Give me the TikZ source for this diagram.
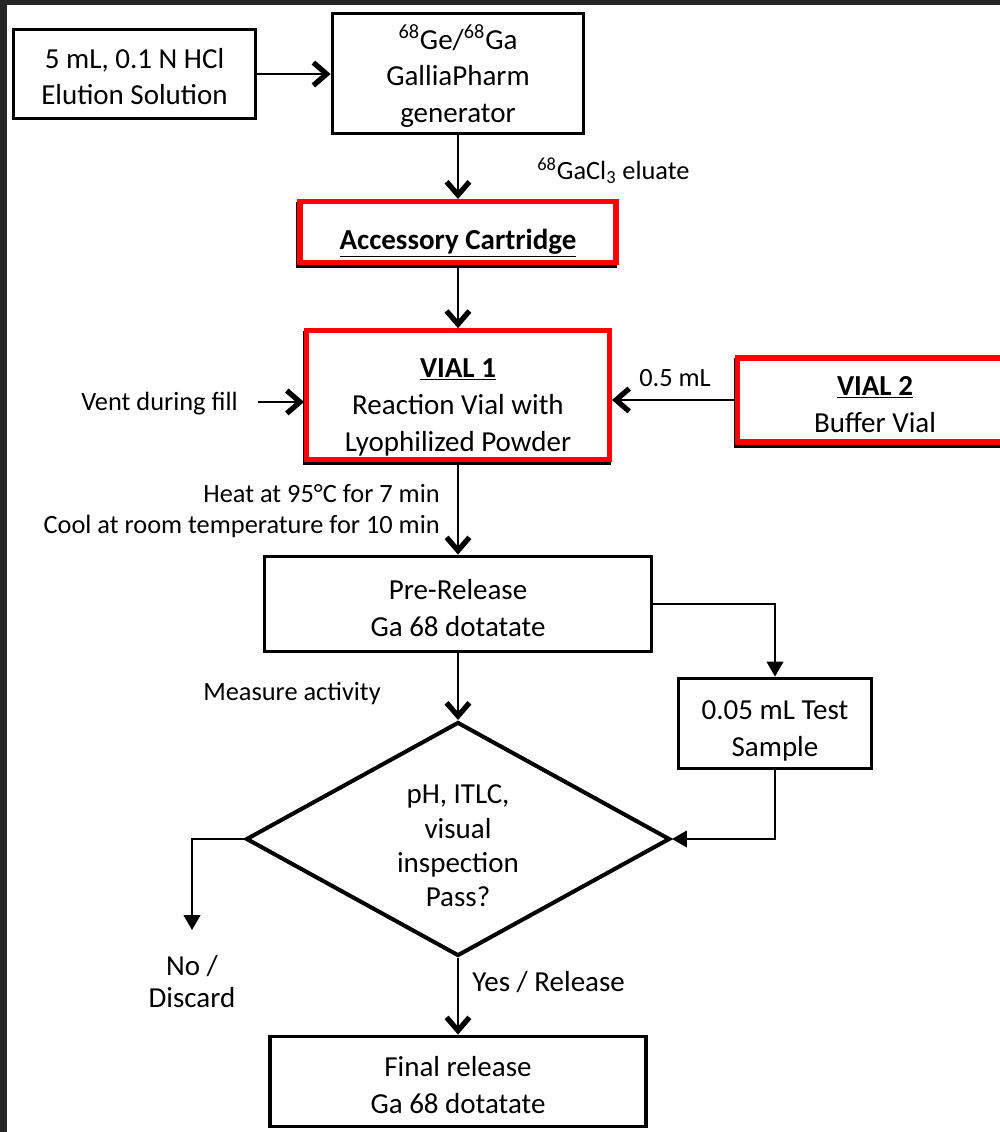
\documentclass[tikz,border=0pt]{standalone}
\usepackage{fontspec}
\setmainfont{Carlito}
\usetikzlibrary{shapes.geometric, arrows.meta, positioning}

\definecolor{framegray}{HTML}{262626}
% extra room above the first line, so the text sits low in its box
\newcommand{\padtop}[1]{\rule{0pt}{#1}}

\begin{document}
\begin{tikzpicture}[x=0.02cm, y=-0.02cm,
  box/.style={draw, line width=2.2pt, fill=white, align=center,
    font=\fontsize{16.5}{21}\selectfont, inner sep=2pt},
  redbox/.style={box, draw=red, line width=2.9pt,
    preaction={draw=black, line width=2.9pt,
      transform canvas={shift={(-0.6pt,-1.7pt)}}}},
  dia/.style={diamond, draw, line width=2.3pt, fill=white, align=center,
    inner sep=0pt, shape aspect=2.2, font=\fontsize{16.5}{19.5}\selectfont,
    minimum width=8.48cm, minimum height=4.68cm},
  lbl/.style={font=\fontsize{15}{17.6}\selectfont, inner sep=0pt},
  blbl/.style={font=\fontsize{16.5}{18.2}\selectfont, inner sep=0pt},
  arr/.style={line width=1.1pt,
    -{Straight Barb[length=7.5pt, width=13pt, line width'=3pt]}},
  tarr/.style={line width=1.1pt, -{Triangle[length=8.5pt, width=9.5pt]}},
]
% ── Frame ──
\useasboundingbox (0,0) rectangle (1000,1132);
\fill[white] (0,0) rectangle (1000,1132);
\fill[framegray] (0,0) rectangle (7,1132);
\fill[framegray] (0,0) rectangle (1000,5);

% ── Row 1: elution solution and generator ──
\node[box, minimum width=4.84cm, minimum height=1.78cm] (elu) at (134.5,74)
  {\padtop{14.3pt}5 mL, 0.1 N HCl\\Elution Solution};
\node[box, minimum width=5.02cm, minimum height=2.40cm] (gen) at (458,73.5)
  {\padtop{17pt}\textsuperscript{68}Ge/\textsuperscript{68}Ga\\GalliaPharm\\generator};
\draw[arr] (elu.east) -- (elu.east -| gen.west);

% ── Cartridge ──
\node[lbl, anchor=west] (eluate) at (537,171)
  {\textsuperscript{68}GaCl\textsubscript{3} eluate};
\node[redbox, minimum width=6.32cm, minimum height=1.22cm] (cart) at (458,232)
  {\padtop{24.5pt}\underline{\textbf{Accessory Cartridge}}};
\draw[arr] (gen.south) -- (cart.north);

% ── Vials ──
\node[redbox, minimum width=6.06cm, minimum height=2.30cm] (vial1) at (458,395)
  {\padtop{24.5pt}\underline{\textbf{VIAL 1}}\\Reaction Vial with\\Lyophilized Powder};
\node[redbox, minimum width=5.5cm, minimum height=1.68cm] (vial2) at (875,400)
  {\padtop{15.7pt}\underline{\textbf{VIAL 2}}\\Buffer Vial};
\draw[arr] (cart.south) -- (vial1.north);

\node[lbl, anchor=east] (ventlbl) at (238,404) {Vent during fill};
\coordinate (vent) at (258,402);
\draw[arr] (vent) -- (vent -| vial1.west);
\node[lbl] (half) at (675,378) {0.5 mL};
\draw[arr] (vial2.west) -- (vial2.west -| vial1.east);

% ── Heating and pre-release ──
\node[lbl, align=right, anchor=east] (heat) at (440,511)
  {Heat at 95°C for 7 min\\Cool at room temperature for 10 min};
\node[box, minimum width=7.74cm, minimum height=1.90cm] (pre) at (458,604)
  {\padtop{16.1pt}Pre-Release\\Ga 68 dotatate};
\draw[arr] (vial1.south) -- (pre.north);

% ── Test sample ──
\node[box, minimum width=3.86cm, minimum height=1.80cm] (test) at (775,723.5)
  {\padtop{18.9pt}0.05 mL Test\\Sample};
\draw[tarr] (pre.east) -| (test.north);

% ── Decision ──
\node[lbl] (meas) at (292,694) {Measure activity};
\node[dia] (chk) at (458,839)
  {\padtop{18.5pt}pH, ITLC,\\visual\\inspection\\Pass?};
\draw[arr] (pre.south) -- (chk.north);
\draw[tarr] (test.south) |- (chk.east);

\coordinate (noend) at (192,930);
\draw[tarr] (chk.west) -| (noend);
\node[blbl, align=center] (no) at (192,982) {No /\\Discard};

% ── Final release ──
\node[blbl, anchor=west] (yes) at (472,982) {Yes / Release};
\node[box, minimum width=7.52cm, minimum height=1.80cm] (fin) at (458,1081.5)
  {\padtop{15.5pt}Final release\\Ga 68 dotatate};
\draw[arr] (chk.south) -- (fin.north);
\end{tikzpicture}
\end{document}
